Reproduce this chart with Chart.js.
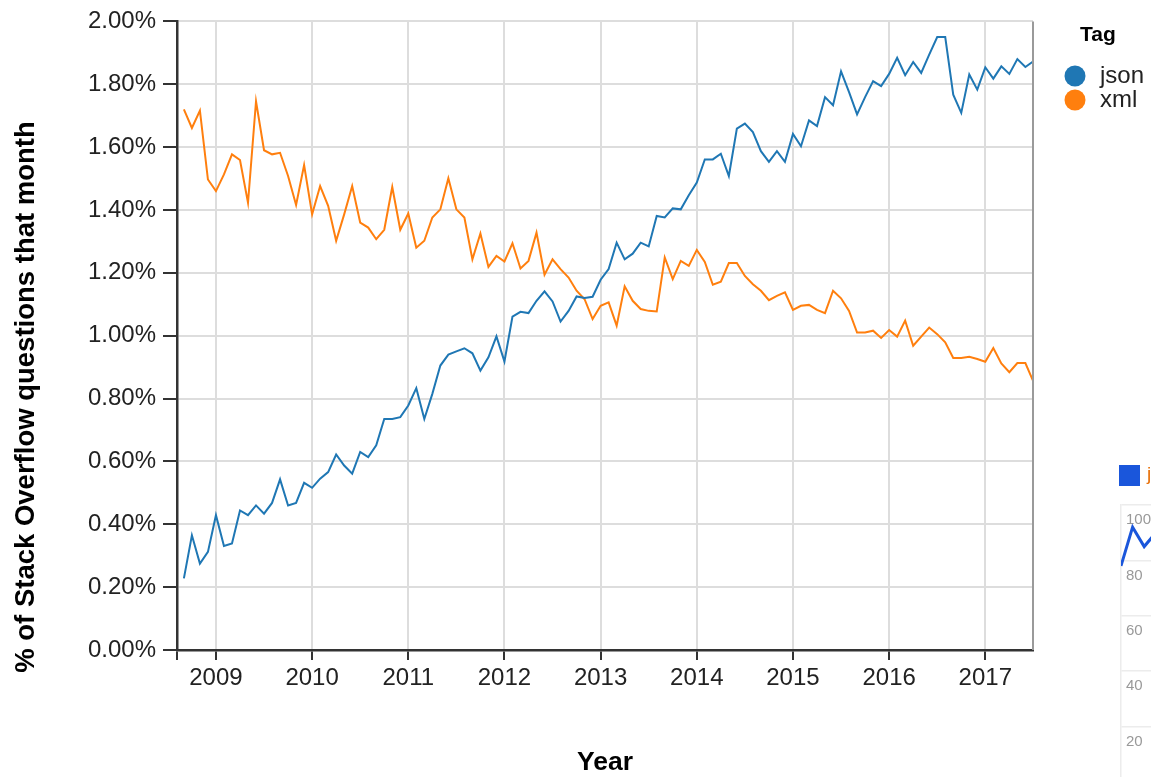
<!DOCTYPE html>
<html lang="en">
<head>
<meta charset="UTF-8">
<title>json vs xml on Stack Overflow</title>
<script src="https://cdn.jsdelivr.net/npm/chart.js@4"></script>
<style>
  html, body { margin: 0; padding: 0; overflow: hidden; background: #fff; width: 1151px; height: 777px; }
  #mainChart { position: absolute; left: 0; top: 0; }
  #sideChart { position: absolute; left: 1111px; top: 490px; }
  #sideKey { position: absolute; left: 1119px; top: 465px; width: 21px; height: 21px; background: #1a56db; }
  #sideLabel { position: absolute; left: 1147px; top: 463px; color: #e8710a; font: 19px "Liberation Sans", Arial, sans-serif; white-space: nowrap; }
</style>
</head>
<body>
<canvas id="mainChart" width="1151" height="777"></canvas>
<div id="sideKey"></div>
<div id="sideLabel">json</div>
<canvas id="sideChart" width="300" height="306"></canvas>
<script>
// monthly share of questions, Sep 2008 .. Jul 2017
const startYear = 2008;
const startMonth = 9;
const yearTicks = [2009, 2010, 2011, 2012, 2013, 2014, 2015, 2016, 2017];
const xMin = 2008.595;
const xMax = 2017.496;
const seriesNames = ['json', 'xml'];
const seriesColors = ['#1f77b4', '#ff7f0e'];
const legendTitle = 'Tag';
const xTitle = 'Year';
const yTitle = '% of Stack Overflow questions that month';

const jsonPct = [
  0.228, 0.365, 0.275, 0.312,
  0.429, 0.331, 0.339, 0.444, 0.429, 0.460, 0.434, 0.468, 0.543, 0.460, 0.468, 0.532,
  0.516, 0.545, 0.566, 0.622, 0.587, 0.561, 0.630, 0.614, 0.651, 0.735, 0.735, 0.741,
  0.778, 0.833, 0.735, 0.815, 0.905, 0.940, 0.950, 0.960, 0.944, 0.889, 0.931, 0.998,
  0.918, 1.061, 1.076, 1.072, 1.111, 1.141, 1.109, 1.045, 1.079, 1.125, 1.120, 1.124,
  1.178, 1.212, 1.296, 1.243, 1.261, 1.296, 1.284, 1.381, 1.376, 1.405, 1.402, 1.447,
  1.487, 1.561, 1.561, 1.579, 1.508, 1.659, 1.675, 1.648, 1.587, 1.553, 1.587, 1.553,
  1.642, 1.603, 1.685, 1.667, 1.759, 1.733, 1.841, 1.775, 1.704, 1.759, 1.810, 1.794,
  1.833, 1.884, 1.829, 1.871, 1.836, 1.894, 1.950, 1.950, 1.767, 1.709, 1.831, 1.783,
  1.854, 1.818, 1.857, 1.833, 1.880, 1.855, 1.873
];

const xmlPct = [
  1.720, 1.661, 1.716, 1.497,
  1.460, 1.513, 1.577, 1.559, 1.423, 1.746, 1.590, 1.577, 1.582, 1.508, 1.416, 1.543,
  1.386, 1.476, 1.413, 1.302, 1.386, 1.476, 1.360, 1.344, 1.307, 1.337, 1.473, 1.337,
  1.389, 1.280, 1.302, 1.376, 1.402, 1.501, 1.402, 1.376, 1.243, 1.325, 1.219, 1.254,
  1.236, 1.294, 1.214, 1.238, 1.328, 1.194, 1.243, 1.212, 1.185, 1.143, 1.116, 1.053,
  1.095, 1.106, 1.032, 1.157, 1.111, 1.085, 1.079, 1.077, 1.249, 1.180, 1.238, 1.222,
  1.273, 1.235, 1.162, 1.172, 1.231, 1.231, 1.190, 1.164, 1.143, 1.113, 1.127, 1.138,
  1.082, 1.095, 1.098, 1.082, 1.072, 1.143, 1.119, 1.079, 1.010, 1.010, 1.016, 0.993,
  1.018, 0.997, 1.048, 0.968, 0.997, 1.026, 1.005, 0.979, 0.929, 0.929, 0.933, 0.926,
  0.917, 0.961, 0.912, 0.884, 0.913, 0.913, 0.854
];

// the clipped chart on the right edge
const sideValues = [78, 92, 85, 90];
const sideMax = 100;

const FONT = '"Liberation Sans", Arial, sans-serif';

function toPoints(vals) {
  return vals.map((v, i) => ({ x: startYear + (startMonth - 1 + i) / 12, y: v }));
}

// y title, right edge and the "Tag" legend are drawn by hand
const extras = {
  id: 'extras',
  afterDraw(chart) {
    const { ctx, chartArea: a } = chart;
    ctx.save();
    ctx.strokeStyle = '#9a9a9a';
    ctx.lineWidth = 2;
    ctx.beginPath();
    ctx.moveTo(a.right, a.top);
    ctx.lineTo(a.right, a.bottom);
    ctx.stroke();

    ctx.save();
    ctx.translate(26, 397);
    ctx.rotate(-Math.PI / 2);
    ctx.font = 'bold 27.5px ' + FONT;
    ctx.fillStyle = '#000';
    ctx.textAlign = 'center';
    ctx.textBaseline = 'middle';
    ctx.fillText(yTitle, 0, 0);
    ctx.restore();

    ctx.font = 'bold 21px ' + FONT;
    ctx.fillStyle = '#000';
    ctx.textAlign = 'left';
    ctx.textBaseline = 'middle';
    ctx.fillText(legendTitle, 1080, 35);

    ctx.font = '24px ' + FONT;
    chart.data.datasets.forEach((ds, i) => {
      const cy = 76 + i * 24;
      ctx.fillStyle = ds.borderColor;
      ctx.beginPath();
      ctx.arc(1075, cy, 10.5, 0, Math.PI * 2);
      ctx.fill();
      ctx.fillStyle = '#222';
      ctx.fillText(ds.label, 1100, cy);
    });
    ctx.restore();
  }
};

new Chart(document.getElementById('mainChart'), {
  type: 'line',
  data: {
    datasets: [
      { label: seriesNames[0], data: toPoints(jsonPct), borderColor: seriesColors[0], backgroundColor: seriesColors[0] },
      { label: seriesNames[1], data: toPoints(xmlPct), borderColor: seriesColors[1], backgroundColor: seriesColors[1] }
    ]
  },
  options: {
    responsive: false,
    animation: false,
    layout: { padding: { top: 20, right: 118, left: 0, bottom: 0 } },
    elements: { point: { radius: 0 }, line: { borderWidth: 2, tension: 0 } },
    plugins: { legend: { display: false }, tooltip: { enabled: false } },
    scales: {
      x: {
        type: 'linear',
        min: xMin,
        max: xMax,
        afterBuildTicks: s => { s.ticks = [xMin].concat(yearTicks).map(v => ({ value: v })); },
        afterFit: s => { s.height = 127; },
        grid: { color: '#dddddd', lineWidth: 2, tickLength: 10, tickColor: '#333', tickWidth: 2 },
        border: { color: '#333', width: 2.5 },
        ticks: {
          autoSkip: false,
          maxRotation: 0,
          padding: 4,
          color: '#222',
          font: { family: FONT, size: 24 },
          callback: v => Number.isInteger(v) ? String(v) : ''
        },
        title: {
          display: true,
          text: xTitle,
          color: '#000',
          font: { family: FONT, size: 26.5, weight: 'bold', lineHeight: 1.1 },
          padding: { top: 0, bottom: 0 }
        }
      },
      y: {
        min: 0,
        max: 2,
        afterFit: s => { s.width = 177; },
        grid: { color: '#dddddd', lineWidth: 2, tickLength: 14, tickColor: '#333', tickWidth: 2 },
        border: { color: '#333', width: 2.5 },
        ticks: {
          stepSize: 0.2,
          padding: 7,
          color: '#222',
          font: { family: FONT, size: 24 },
          callback: v => v.toFixed(2) + '%'
        }
      }
    }
  },
  plugins: [extras]
});

new Chart(document.getElementById('sideChart'), {
  type: 'line',
  data: {
    datasets: [{
      data: sideValues.map((v, i) => ({ x: i, y: v })),
      borderColor: '#1a56db',
      borderWidth: 3,
      pointRadius: 0,
      tension: 0
    }]
  },
  options: {
    responsive: false,
    animation: false,
    layout: { padding: { top: 15, bottom: 2, left: 0, right: 0 } },
    plugins: { legend: { display: false }, tooltip: { enabled: false } },
    scales: {
      x: { type: 'linear', min: 0, max: 25, display: false },
      y: {
        min: 0,
        max: sideMax,
        grid: { color: '#ececec', lineWidth: 1.5, drawTicks: false },
        border: { color: '#ececec', width: 1.5 },
        ticks: {
          stepSize: 20,
          mirror: true,
          padding: 5,
          labelOffset: 15,
          color: '#999',
          font: { family: FONT, size: 15 }
        }
      }
    }
  }
});
</script>
</body>
</html>
